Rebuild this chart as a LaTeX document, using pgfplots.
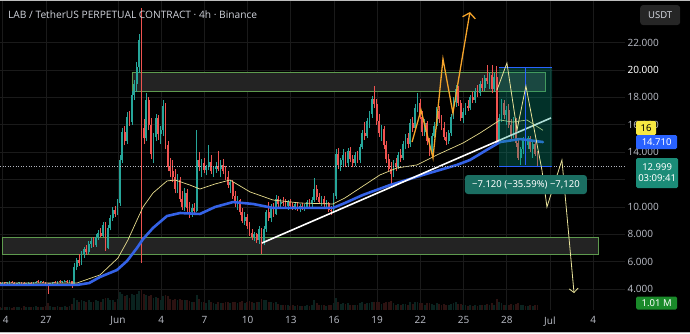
\documentclass[border=0pt]{standalone}
\usepackage{fontspec}
\setmainfont{Noto Sans}
\newfontfamily\titlefont{Open Sans}
\usepackage{pgfplots}
\usepackage{pgfplotstable}
\pgfplotsset{compat=1.18}
\usetikzlibrary{arrows.meta}
\definecolor{gridc}{HTML}{1A1A1A}
\definecolor{upc}{HTML}{26A69A}
\definecolor{dnc}{HTML}{EF5350}
\definecolor{upv}{HTML}{0A231F}
\definecolor{dnv}{HTML}{2C1211}
\definecolor{maY}{HTML}{E6DB8C}
\definecolor{maB}{HTML}{3462E6}
\definecolor{zoneb}{HTML}{5E9A4E}
\definecolor{zonef}{HTML}{232323}
\definecolor{measc}{HTML}{089981}
\definecolor{measlab}{HTML}{1B6E62}
\definecolor{bluel}{HTML}{2962FF}
\definecolor{orangep}{HTML}{F5A42A}
\definecolor{yproj}{HTML}{E9E39A}
\definecolor{txtc}{HTML}{B2B5BE}
\definecolor{titlec}{HTML}{D1D4DC}
\definecolor{yeltag}{HTML}{F7E842}
\definecolor{tealtag}{HTML}{1B8C78}
\definecolor{greentag}{HTML}{1A8A2A}
\definecolor{usdtc}{HTML}{262626}
\definecolor{framec}{HTML}{BDBDBD}

\pgfplotstableread{
o h l c v
4.45 4.55 4.35 4.40 0.20
4.40 4.52 4.34 4.48 0.15
4.48 4.56 4.40 4.42 0.20
4.42 4.50 4.30 4.46 0.25
4.46 4.58 4.40 4.52 0.20
4.52 4.60 4.42 4.45 0.15
4.45 4.52 4.36 4.38 0.20
4.38 4.48 4.30 4.44 0.25
4.44 4.55 4.38 4.50 0.20
4.50 4.56 4.40 4.43 0.15
4.43 4.50 4.32 4.36 0.30
4.36 4.46 4.28 4.41 0.20
4.41 4.52 4.36 4.47 0.20
4.47 4.54 4.38 4.40 0.25
4.40 4.49 4.33 4.45 0.20
4.45 4.62 4.42 4.56 0.30
4.56 4.64 4.46 4.50 0.20
4.50 4.58 4.42 4.54 0.20
4.54 4.60 4.44 4.47 0.25
4.47 4.52 4.30 4.34 0.30
4.34 4.42 3.65 4.30 0.50
4.30 4.46 4.26 4.42 0.30
4.42 4.55 4.38 4.50 0.25
4.50 4.58 4.42 4.46 0.20
4.46 4.62 4.40 4.58 0.30
4.58 4.66 4.48 4.52 0.20
4.52 4.60 4.45 4.56 0.25
4.56 4.70 4.50 4.62 0.30
4.62 4.68 4.48 4.50 0.25
4.50 4.64 4.46 4.58 0.30
4.58 4.62 4.10 4.40 0.45
4.40 5.90 4.35 5.60 0.90
5.60 6.30 5.40 6.10 0.70
6.10 6.60 5.70 5.90 0.60
5.90 6.80 5.80 6.60 0.70
6.60 7.10 6.30 6.90 0.65
6.90 7.20 6.50 6.70 0.55
6.70 7.50 6.60 7.30 0.70
7.30 7.70 7.00 7.50 0.60
7.50 7.80 7.10 7.20 0.55
7.20 8.00 7.10 7.80 0.70
7.80 8.30 7.60 8.10 0.65
8.10 8.50 7.80 7.90 0.60
7.90 8.90 7.80 8.70 0.80
8.70 8.90 6.80 7.00 0.90
7.00 8.70 6.90 8.50 0.85
8.50 9.40 8.30 9.20 0.70
9.20 10.00 9.00 9.80 0.75
9.80 10.10 9.30 9.50 0.60
9.50 10.60 9.40 10.30 0.80
10.30 13.80 10.10 13.40 1.30
13.40 15.80 13.20 15.50 1.20
15.50 15.90 14.50 14.80 1.00
14.80 16.90 14.60 16.60 1.10
16.60 17.00 15.90 16.20 0.90
16.20 18.50 16.00 18.20 1.20
18.20 19.30 17.80 19.00 1.10
19.00 20.60 18.40 20.20 1.20
20.20 22.60 19.80 22.20 1.40
22.20 24.50 5.90 15.80 1.50
15.80 16.40 14.60 15.00 1.20
15.00 18.30 14.80 17.80 1.10
17.80 18.00 15.60 16.00 1.00
16.00 16.50 13.50 13.90 1.10
13.90 15.40 13.20 15.10 0.90
15.10 16.80 14.80 16.50 0.95
16.50 16.70 14.90 15.30 0.85
15.30 15.90 14.60 15.60 0.70
15.60 17.80 15.20 17.40 1.00
17.40 17.60 14.20 14.50 1.10
14.50 14.80 12.60 12.90 1.00
12.90 13.60 12.20 12.60 0.80
12.60 13.40 11.80 12.20 0.75
12.20 12.80 11.00 11.30 0.80
11.30 12.40 11.00 12.00 0.70
12.00 12.20 10.40 10.60 0.80
10.60 11.20 9.80 10.00 0.75
10.00 11.40 9.70 11.00 0.70
11.00 11.30 9.60 9.90 0.70
9.90 10.40 9.20 9.60 0.65
9.60 10.20 9.30 9.90 0.60
9.90 10.30 9.50 9.70 0.55
9.70 15.60 9.60 13.40 1.10
13.40 14.00 12.60 12.90 0.80
12.90 13.50 12.20 13.20 0.60
13.20 13.60 12.50 12.70 0.55
12.70 13.10 12.30 12.90 0.50
12.90 14.50 12.70 13.30 0.70
13.30 13.80 12.40 12.60 0.60
12.60 13.00 12.20 12.80 0.50
12.80 13.30 12.50 13.00 0.45
13.00 14.10 12.60 12.80 0.60
12.80 13.40 12.20 13.10 0.50
13.10 13.50 12.40 12.60 0.50
12.60 13.00 12.00 12.20 0.55
12.20 12.60 11.40 11.60 0.60
11.60 12.00 11.00 11.80 0.50
11.80 12.00 10.60 10.80 0.60
10.80 11.20 10.00 10.30 0.60
10.30 10.80 9.80 10.50 0.50
10.50 10.60 9.40 9.60 0.60
9.60 9.90 8.80 9.00 0.65
9.00 9.60 8.70 9.30 0.50
9.30 9.50 8.40 8.60 0.60
8.60 8.90 7.90 8.10 0.65
8.10 8.40 7.60 7.80 0.60
7.80 8.20 7.50 8.00 0.50
8.00 8.10 7.40 7.60 0.55
7.60 8.60 7.30 8.40 0.60
8.40 8.50 6.60 7.40 0.80
7.40 8.60 7.20 8.40 0.70
8.40 9.80 8.20 9.60 0.75
9.60 10.40 9.00 9.20 0.60
9.20 10.20 8.90 10.00 0.60
10.00 10.30 9.30 9.50 0.50
9.50 10.90 9.40 10.60 0.60
10.60 10.80 10.00 10.20 0.45
10.20 10.60 9.90 10.40 0.40
10.40 10.70 10.10 10.30 0.35
10.30 10.60 9.90 10.10 0.40
10.10 10.50 9.80 10.40 0.35
10.40 10.60 10.00 10.10 0.30
10.10 10.30 9.80 10.00 0.35
10.00 10.40 9.80 10.20 0.30
10.20 10.40 9.70 9.90 0.35
9.90 10.20 9.60 10.10 0.30
10.10 10.30 9.80 9.90 0.30
9.90 10.20 9.70 10.00 0.30
10.00 10.50 9.90 10.40 0.35
10.40 10.60 10.00 10.20 0.30
10.20 10.70 10.00 10.50 0.35
10.50 12.10 10.40 11.30 0.70
11.30 11.60 10.50 10.70 0.50
10.70 11.00 10.20 10.40 0.40
10.40 10.80 10.10 10.60 0.35
10.60 10.80 10.00 10.20 0.35
10.20 10.50 9.90 10.30 0.30
10.30 10.40 9.60 9.80 0.40
9.80 10.10 9.40 9.70 0.35
9.70 11.00 9.60 10.80 0.50
10.80 14.20 10.60 13.90 0.90
13.90 14.30 12.80 13.10 0.60
13.10 13.60 12.60 13.40 0.45
13.40 14.20 13.00 13.80 0.50
13.80 14.00 12.90 13.20 0.45
13.20 14.30 13.00 14.10 0.50
14.10 14.40 13.30 13.50 0.40
13.50 13.80 12.90 13.20 0.40
13.20 14.00 13.00 13.80 0.40
13.80 14.10 13.20 13.40 0.35
13.40 14.60 13.20 14.40 0.50
14.40 15.60 14.20 15.40 0.55
15.40 16.20 14.90 15.20 0.45
15.20 16.50 15.00 16.30 0.50
16.30 17.00 15.80 16.80 0.50
16.80 18.10 16.50 17.90 0.60
17.90 18.80 17.20 17.50 0.60
17.50 17.90 16.00 16.30 0.55
16.30 16.80 15.10 15.40 0.55
15.40 16.00 14.80 15.70 0.45
15.70 15.90 14.20 14.50 0.50
14.50 14.80 13.20 13.50 0.55
13.50 13.90 12.60 12.80 0.55
12.80 13.30 11.50 12.40 0.65
12.40 13.40 12.20 13.20 0.50
13.20 13.60 12.60 12.90 0.40
12.90 14.00 12.80 13.80 0.45
13.80 14.20 13.30 13.60 0.40
13.60 14.80 13.40 14.60 0.45
14.60 15.30 14.20 15.00 0.45
15.00 15.40 14.30 14.60 0.40
14.60 16.40 14.40 16.10 0.55
16.10 16.60 15.50 15.80 0.45
15.80 17.50 15.60 17.20 0.55
17.20 18.30 16.90 17.60 0.55
17.60 17.90 16.40 16.60 0.50
16.60 17.00 15.20 15.50 0.50
15.50 16.40 15.20 16.10 0.40
16.10 16.30 14.50 14.80 0.50
14.80 15.00 13.70 14.00 0.50
14.00 15.40 13.80 15.20 0.45
15.20 16.20 15.00 15.90 0.40
15.90 17.30 15.70 17.00 0.50
17.00 17.40 16.10 16.40 0.45
16.40 16.70 15.60 15.80 0.40
15.80 16.20 14.90 15.10 0.45
15.10 15.50 14.50 14.80 0.40
14.80 15.60 14.60 15.40 0.35
15.40 16.80 15.20 16.60 0.45
16.60 18.00 16.40 17.70 0.50
17.70 18.90 17.30 18.60 0.55
18.60 18.80 17.40 17.60 0.45
17.60 17.80 16.30 16.50 0.45
16.50 17.20 16.10 16.90 0.35
16.90 17.60 16.70 17.40 0.35
17.40 17.80 17.00 17.20 0.30
17.20 18.20 17.10 18.00 0.40
18.00 18.40 17.60 17.80 0.30
17.80 18.70 17.60 18.50 0.40
18.50 18.90 18.00 18.30 0.30
18.30 19.20 18.10 19.00 0.40
19.00 19.40 18.50 18.70 0.35
18.70 19.60 18.50 19.40 0.40
19.40 20.40 19.00 19.20 0.45
19.20 19.80 18.60 19.60 0.35
19.60 20.40 18.30 18.60 0.50
18.60 19.80 18.40 19.50 0.40
19.50 20.30 14.60 14.90 0.80
14.90 16.80 14.70 16.50 0.55
16.50 17.90 16.20 17.60 0.50
17.60 17.80 16.40 16.70 0.40
16.70 17.40 16.00 17.10 0.35
17.10 17.50 15.80 16.00 0.40
16.00 16.40 14.90 15.20 0.45
15.20 16.60 15.00 16.30 0.40
16.30 16.50 14.40 14.70 0.45
14.70 15.00 13.40 13.60 0.50
13.60 14.40 13.10 14.20 0.40
14.20 15.10 13.90 14.90 0.35
14.90 15.30 14.30 14.50 0.30
14.50 15.20 14.20 15.00 0.30
15.00 15.20 14.00 14.20 0.35
14.20 14.80 13.60 14.60 0.30
14.60 14.90 13.70 13.90 0.35
13.90 14.10 12.90 13.00 0.40
}\candles

\pgfplotsset{candle/.style={forget plot, mark=none, line cap=butt}}

\begin{document}
\begin{tikzpicture}[x=1pt,y=1pt]
\fill[black] (0,0) rectangle (690,333);
\begin{axis}[
  at={(0pt,23pt)}, anchor=south west,
  scale only axis, width=625pt, height=310pt,
  xmin=-8.194, xmax=35.21, ymin=2.48, ymax=25.11,
  clip=false,
  axis line style={draw=none},
  major tick length=0pt,
  grid=major, grid style={color=gridc, line width=0.7pt},
  xtick={-8,-5,0,3,6,9,12,15,18,21,24,27,30,33},
  xticklabels={{\hspace*{6pt}4},27,Jun,4,7,10,13,16,19,22,25,28,Jul,4},
  xticklabel style={text=txtc, font=\fontsize{10}{12}\selectfont, yshift=-3pt},
  ytick={4,6,8,10,12,14,16,18,20,22},
  yticklabels={4.000,6.000,8.000,10.000,{},14.000,16.000,18.000,{\textcolor{white}{20.000}},22.000},
  yticklabel pos=right,
  yticklabel style={text=txtc, font=\fontsize{10}{12}\selectfont, anchor=west, xshift=-1pt},
]
% support / resistance zones
\addplot[fill=zonef, draw=zoneb, line width=0.8pt] coordinates {(-8.05,6.57) (33.33,6.57) (33.33,7.80) (-8.05,7.80) (-8.05,6.57)};
\addplot[fill=zonef, draw=zoneb, line width=0.8pt] coordinates {(0.97,18.47) (29.65,18.47) (29.65,19.85) (0.97,19.85) (0.97,18.47)};
% volume
\addplot[candle, upv, line width=1.7pt, quiver={u=0, v={\thisrow{v}}}]
  table[x expr=\coordindex/6-8.2, y expr={\thisrow{c}>=\thisrow{o} ? 2.48 : nan}] {\candles};
\addplot[candle, dnv, line width=1.7pt, quiver={u=0, v={\thisrow{v}}}]
  table[x expr=\coordindex/6-8.2, y expr={\thisrow{c}<\thisrow{o} ? 2.48 : nan}] {\candles};
% wicks
\addplot[candle, upc, line width=0.5pt, quiver={u=0, v={\thisrow{h}-\thisrow{l}}}]
  table[x expr=\coordindex/6-8.2, y expr={\thisrow{c}>=\thisrow{o} ? \thisrow{l} : nan}] {\candles};
\addplot[candle, dnc, line width=0.5pt, quiver={u=0, v={\thisrow{h}-\thisrow{l}}}]
  table[x expr=\coordindex/6-8.2, y expr={\thisrow{c}<\thisrow{o} ? \thisrow{l} : nan}] {\candles};
% bodies
\addplot[candle, upc, line width=1.7pt, quiver={u=0, v={max(\thisrow{c}-\thisrow{o},0.07)}}]
  table[x expr=\coordindex/6-8.2, y expr={\thisrow{c}>=\thisrow{o} ? \thisrow{o} : nan}] {\candles};
\addplot[candle, dnc, line width=1.7pt, quiver={u=0, v={max(\thisrow{o}-\thisrow{c},0.07)}}]
  table[x expr=\coordindex/6-8.2, y expr={\thisrow{c}<\thisrow{o} ? \thisrow{c} : nan}] {\candles};
% moving averages
\addplot[maB, line width=2.6pt, line join=round, line cap=round] coordinates {
(-8.19,4.31) (-2.85,4.31) (-2.0,4.45) (-1.25,4.89) (-0.07,5.40) (0.63,6.06) (1.32,7.01) (1.74,7.66) (2.43,8.47)
(3.40,9.34) (4.31,9.56) (5.69,9.49) (6.74,10.0) (7.99,10.36) (9.38,10.22) (10.76,9.93) (12.64,9.93)
(14.93,9.93) (15.76,10.29) (17.01,10.88) (18.89,11.6) (21.18,12.34) (23.54,13.07) (24.44,13.43)
(25.5,14.1) (26.53,14.74) (27.92,14.96) (29.51,14.74)};
\addplot[maY, line width=0.7pt, line join=round] coordinates {
(-8.19,4.45) (-2.85,4.45) (-2.64,4.53) (-1.25,5.04) (0,6.28) (0.69,7.59) (1.32,9.05) (1.74,10.0)
(2.43,11.02) (3.40,11.9) (3.96,11.97) (5.0,11.6) (5.69,11.31) (6.74,11.68) (7.78,11.97) (9.17,11.1)
(10.76,10.51) (12.64,10.29) (14.93,10.22) (15.76,10.66) (18.19,12.34) (19.38,12.85) (20.76,13.07)
(22.15,13.8) (23.96,14.67) (25.14,15.4) (26.53,16.35) (27.43,16.2) (28.4,16.35) (29.51,15.6)};
% trend line
\addplot[white, line width=1.6pt] coordinates {(10.0,7.37) (30.07,16.5)};
% current price dotted
\addplot[txtc, dotted, line width=0.6pt] coordinates {(-8.19,12.999) (35.21,12.999)};
% measure box
\addplot[fill=measc, fill opacity=0.32, draw=none] coordinates {(26.46,12.99) (30.14,12.99) (30.14,20.15) (26.46,20.15) (26.46,12.99)};
\addplot[bluel, line width=1pt] coordinates {(26.46,20.15) (30.14,20.15)};
\addplot[bluel, line width=1pt] coordinates {(26.46,12.99) (30.14,12.99)};
\addplot[bluel, line width=1pt] coordinates {(28.33,20.15) (28.33,13.05)};
% projections
\addplot[orangep, line width=1.3pt, -{Straight Barb[length=5pt,width=13pt]}] coordinates {
(20.42,14.74) (21.04,17.08) (21.875,13.58) (22.57,20.8) (23.26,16.86) (24.44,24.23)};
\addplot[yproj, line width=0.8pt, -{Straight Barb[length=4pt,width=9pt]}] coordinates {
(26.32,18.54) (27.01,20.51) (27.71,15.62) (28.33,18.83) (29.44,12.70) (29.79,10.0) (30.83,13.43) (31.67,3.72)};
% labels
\node[anchor=west, text=titlec, font=\titlefont\fontsize{10.2}{12}\selectfont, inner sep=0pt] at (axis cs:-7.64,24.01) {LAB / TetherUS PERPETUAL CONTRACT · 4h · Binance};
\node[fill=measlab, rounded corners=3pt, text=white, font=\fontsize{9.5}{11}\selectfont, minimum width=122pt, minimum height=19pt, inner sep=0pt] at (axis cs:28.33,11.64) {−7.120 (−35.59\%) −7,120};
\node[anchor=west, fill=usdtc, rounded corners=3pt, text=titlec, font=\fontsize{9.5}{11}\selectfont, minimum width=40pt, minimum height=20pt, inner sep=0pt] at (axis cs:36.25,24.01) {USDT};
\node[anchor=west, fill=yeltag, rounded corners=1.5pt, text=black, font=\fontsize{9.5}{11}\selectfont, minimum width=20pt, minimum height=14pt, inner sep=0pt] at (axis cs:35.97,15.77) {16};
\node[anchor=west, fill=bluel, rounded corners=1.5pt, text=white, font=\fontsize{9.5}{11}\selectfont, minimum width=41pt, minimum height=14pt, inner sep=0pt] at (axis cs:35.97,14.74) {14.710};
\node[anchor=west, fill=tealtag, rounded corners=1.5pt, text=white, font=\fontsize{9.5}{11}\selectfont, minimum width=42pt, minimum height=30pt, inner sep=0pt, align=center] at (axis cs:35.97,12.48) {12.999\\03:09:41};
\node[anchor=west, fill=greentag, rounded corners=1.5pt, text=white, font=\fontsize{9.5}{11}\selectfont, minimum width=41pt, minimum height=13pt, inner sep=0pt] at (axis cs:35.97,2.99) {1.01 M};
\end{axis}
\draw[framec, line width=1.5pt] (0,332.25) -- (690,332.25);
\draw[framec, line width=1.5pt] (0,0.75) -- (690,0.75);
\pgfresetboundingbox
\path (0,0) rectangle (690,333);
\end{tikzpicture}
\end{document}
